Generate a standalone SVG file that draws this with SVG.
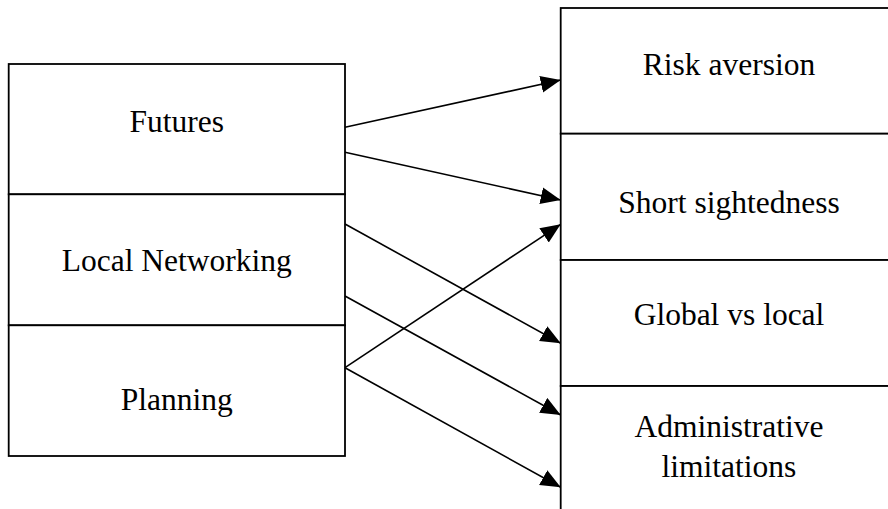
<svg xmlns="http://www.w3.org/2000/svg" width="888" height="509" viewBox="0 0 888 509">
<style>
.box{fill:#fff;stroke:#000;stroke-width:1.8}
.lbl{font-family:"Liberation Serif","Times New Roman",serif;font-size:31.5px;fill:#000;text-anchor:middle}
.conn line{stroke:#000;stroke-width:1.6;marker-end:url(#ah)}
</style>
<defs>
<marker id="ah" markerUnits="userSpaceOnUse" markerWidth="22" markerHeight="18" refX="20" refY="8.5" orient="auto">
<path d="M0,0 L20,8.5 L0,17 z" fill="#000"/>
</marker>
</defs>
<g id="futures"><rect class="box" x="8.7" y="64" width="336.3" height="130.3"/><text class="lbl" x="176.8" y="131.7">Futures</text></g>
<g id="local-networking"><rect class="box" x="8.7" y="194.3" width="336.3" height="131"/><text class="lbl" x="176.8" y="270.7">Local Networking</text></g>
<g id="planning"><rect class="box" x="8.7" y="325.3" width="336.3" height="130.7"/><text class="lbl" x="176.8" y="410">Planning</text></g>
<g id="risk-aversion"><rect class="box" x="560.7" y="8" width="340" height="125.7"/><text class="lbl" x="729" y="75">Risk aversion</text></g>
<g id="short-sightedness"><rect class="box" x="560.7" y="133.7" width="340" height="126.3"/><text class="lbl" x="729" y="213.3">Short sightedness</text></g>
<g id="global-vs-local"><rect class="box" x="560.7" y="260" width="340" height="126"/><text class="lbl" x="729" y="325">Global vs local</text></g>
<g id="administrative-limitations"><rect class="box" x="560.7" y="386" width="340" height="140"/><text class="lbl" x="729" y="436.7">Administrative</text><text class="lbl" x="729" y="476.7">limitations</text></g>
<g id="connectors" class="conn">
<line x1="345" y1="127.3" x2="560.7" y2="80"/>
<line x1="345" y1="152.3" x2="560.7" y2="200"/>
<line x1="345" y1="224" x2="560.7" y2="343.3"/>
<line x1="345" y1="296" x2="560.7" y2="415"/>
<line x1="345" y1="367.7" x2="560.7" y2="224.3"/>
<line x1="345" y1="367.7" x2="560.7" y2="487.3"/>
</g>
</svg>
